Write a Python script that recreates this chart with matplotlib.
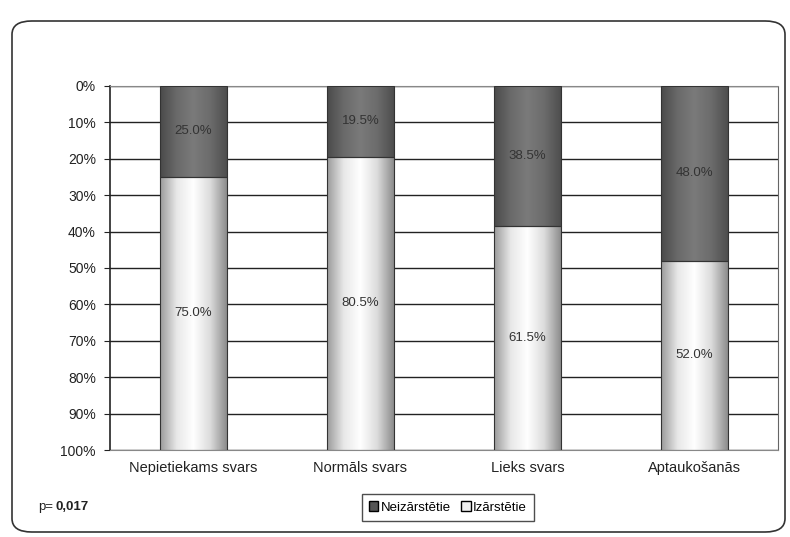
import numpy as np
import matplotlib
matplotlib.use("Agg")
import matplotlib.pyplot as plt
from matplotlib.patches import FancyBboxPatch, Patch
from matplotlib.colors import LinearSegmentedColormap

plt.rcParams['font.family'] = ['Liberation Sans', 'DejaVu Sans']

categories = ["Nepietiekams svars", "Normāls svars", "Lieks svars", "Aptaukošanās"]
neizarstetie = [25.0, 19.5, 38.5, 48.0]
izarstetie = [75.0, 80.5, 61.5, 52.0]
yticks = [0, 10, 20, 30, 40, 50, 60, 70, 80, 90, 100]

fig = plt.figure(figsize=(7.9, 5.37), dpi=100)
fig.patch.set_facecolor("white")

# rounded outer frame
frame = FancyBboxPatch((12 / 790, 5 / 537), 773 / 790, 511 / 537,
                       boxstyle="round,pad=0,rounding_size=0.025",
                       transform=fig.transFigure, fill=False,
                       edgecolor="#333333", linewidth=1.2)
fig.patches.append(frame)

ax = fig.add_axes([0.139, 0.162, 0.846, 0.678])
x = np.arange(len(categories))
w = 0.4

dark_cmap = LinearSegmentedColormap.from_list(
    "dark", ["#4a4a4a", "#6a6a6a", "#7a7a7a", "#6c6c6c", "#4e4e4e"])
light_cmap = LinearSegmentedColormap.from_list(
    "light", ["#9a9a9a", "#e8e8e8", "#ffffff", "#dcdcdc", "#8c8c8c"])
grad = np.linspace(0, 1, 256).reshape(1, -1)

for i in range(len(categories)):
    segs = [(0, neizarstetie[i], dark_cmap),
            (neizarstetie[i], neizarstetie[i] + izarstetie[i], light_cmap)]
    for y0, y1, cm in segs:
        b = ax.bar(x[i], y1 - y0, bottom=y0, width=w, color="none",
                   edgecolor="#333333", linewidth=0.8, zorder=3)[0]
        im = ax.imshow(grad, cmap=cm, aspect="auto", zorder=2,
                       extent=(x[i] - w / 2, x[i] + w / 2, y1, y0))
        im.set_clip_path(b)

    ax.text(x[i], neizarstetie[i] / 2, f"{neizarstetie[i]:.1f}%",
            ha="center", va="center", fontsize=9.5, color="#333333", zorder=4)
    ax.text(x[i], neizarstetie[i] + izarstetie[i] / 2, f"{izarstetie[i]:.1f}%",
            ha="center", va="center", fontsize=9.5, color="#333333", zorder=4)

ax.set_xlim(-0.5, len(categories) - 0.5)
ax.set_ylim(100, 0)
ax.set_yticks(yticks)
ax.set_yticklabels([f"{t}%" for t in yticks], fontsize=10, color="#222222")
ax.set_xticks(x)
ax.set_xticklabels(categories, fontsize=10.5, color="#222222")
ax.tick_params(axis="x", length=0, pad=8)
ax.tick_params(axis="y", length=4, direction="out", color="#222222", pad=6)

ax.yaxis.grid(True, color="#222222", linewidth=1.0)
ax.set_axisbelow(True)

ax.spines["left"].set_color("#222222")
ax.spines["left"].set_linewidth(1.2)
ax.spines["top"].set_color("#888888")
ax.spines["bottom"].set_color("#888888")
ax.spines["right"].set_color("#666666")
ax.spines["right"].set_linestyle((0, (1, 1)))

fig.text(38 / 790, 1 - 507 / 537, "p=", fontsize=9.5, color="#222222",
         va="center", ha="left")
fig.text(55 / 790, 1 - 507 / 537, "0,017", fontsize=9.5, fontweight="bold",
         color="#222222", va="center", ha="left")

handles = [Patch(facecolor="#555555", edgecolor="black", label="Neizārstētie"),
           Patch(facecolor="#f0f0f0", edgecolor="black", label="Izārstētie")]
leg = fig.legend(handles=handles, loc="center", bbox_to_anchor=(0.567, 0.055),
                 ncol=2, fontsize=9.5, frameon=True, fancybox=False,
                 handlelength=0.7, handleheight=0.7, handletextpad=0.2,
                 columnspacing=0.8, borderpad=0.55)
leg.get_frame().set_edgecolor("#222222")
leg.get_frame().set_linewidth(1.0)

fig.savefig("out.png", dpi=100)
